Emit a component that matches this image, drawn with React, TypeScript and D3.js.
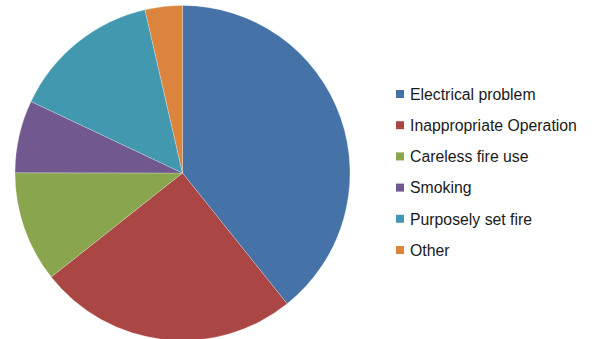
import React from "react";
import * as d3 from "d3";

const categories = [
  "Electrical problem",
  "Inappropriate Operation",
  "Careless fire use",
  "Smoking",
  "Purposely set fire",
  "Other",
];
const values = [39.3, 25.1, 10.7, 7.0, 14.4, 3.6];
const colors = ["#4572A7", "#AA4643", "#89A54E", "#71588F", "#4198AF", "#DB843D"];

const W = 592;
const H = 339;
const cx = 182.5;
const cy = 173;
const R = 167.5;

export default function App() {
  const pie = d3
    .pie<number>()
    .sort(null)
    .value((d) => d)
    .startAngle(0)
    .endAngle(2 * Math.PI);
  const arcs = pie(values);
  const arcGen = d3.arc<d3.PieArcDatum<number>>().innerRadius(0).outerRadius(R);
  const legendY = d3
    .scalePoint<string>()
    .domain(categories)
    .range([94, 250]);

  return (
    <svg
      width={W}
      height={H}
      style={{ position: "absolute", left: 0, top: 0, background: "#fff" }}
    >
      <g transform={`translate(${cx},${cy})`}>
        {arcs.map((a, i) => (
          <path
            key={i}
            d={arcGen(a) || ""}
            fill={colors[i]}
            stroke="#fff"
            strokeWidth={0.4}
            strokeOpacity={0.6}
          />
        ))}
      </g>
      <g>
        {categories.map((c, i) => (
          <g key={c} transform={`translate(396,${legendY(c)})`}>
            <rect x={0} y={-4} width={8} height={8} fill={colors[i]} />
            <text
              x={14}
              y={0}
              dy="0.36em"
              fontFamily="'Liberation Sans', Arial, sans-serif"
              fontSize={15.8}
              fill="#1a1a1a"
            >
              {c}
            </text>
          </g>
        ))}
      </g>
    </svg>
  );
}
